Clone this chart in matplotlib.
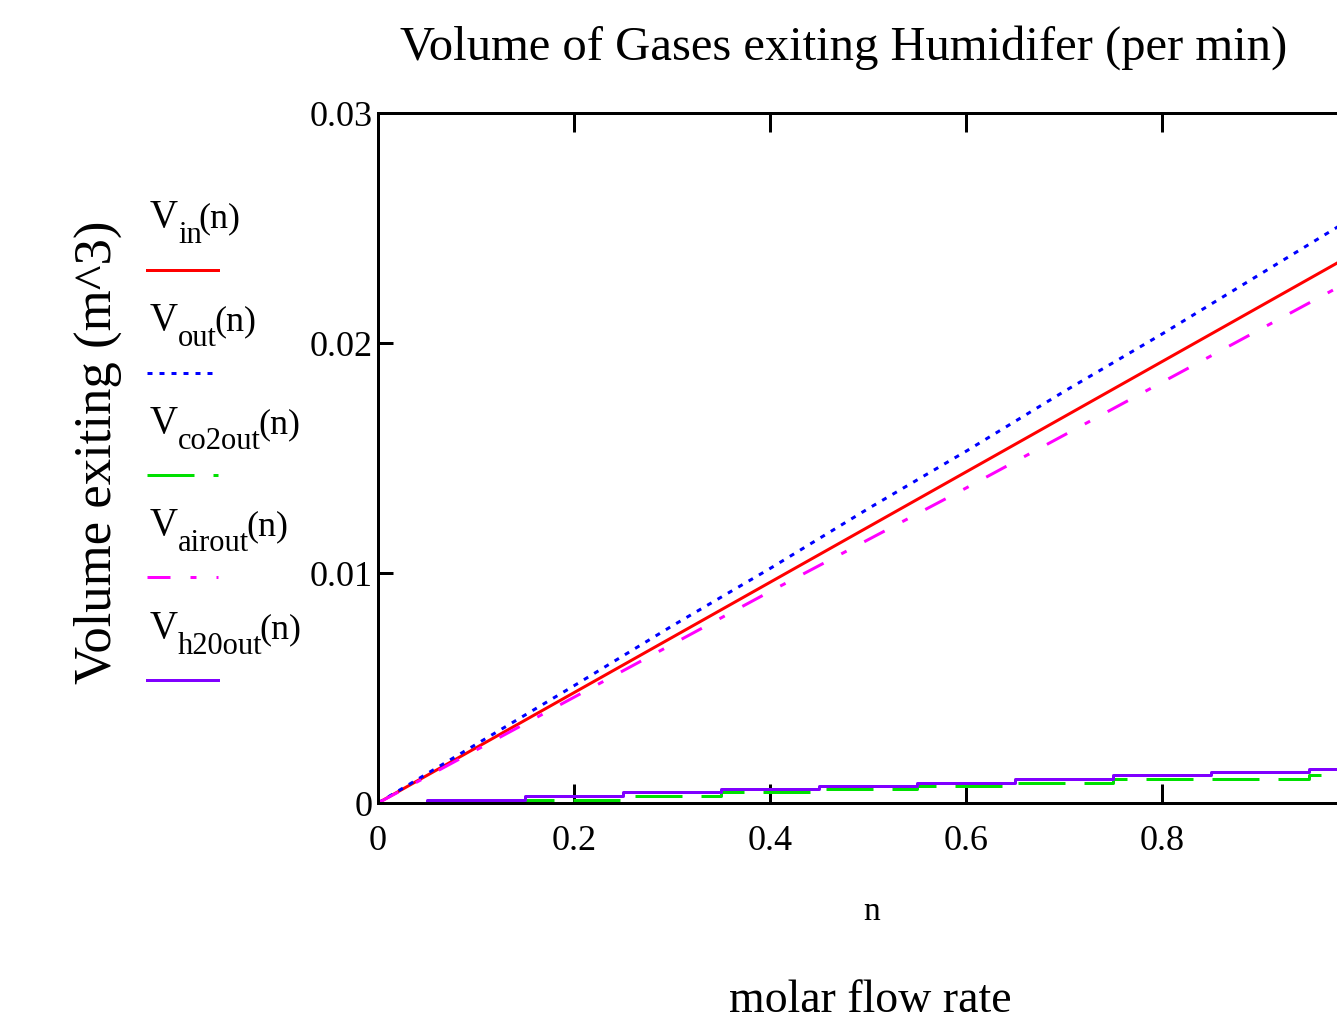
import matplotlib
matplotlib.use("Agg")
import matplotlib.pyplot as plt
from matplotlib.lines import Line2D

plt.rcParams['font.family'] = ['Liberation Serif', 'DejaVu Serif']
plt.rcParams['lines.scale_dashes'] = False

# ---- data ----
n = [0.0, 0.1, 0.2, 0.3, 0.4, 0.5, 0.6, 0.7, 0.8, 0.9, 1.0]
V_in = [0.0, 0.0024, 0.0048, 0.0072, 0.0096, 0.0120, 0.0144, 0.0168, 0.0192, 0.0216, 0.0240]
V_out = [0.0, 0.00255, 0.0051, 0.0077, 0.0102, 0.0128, 0.0153, 0.0179, 0.0204, 0.0230, 0.0256]
V_co2out = [0.0, 0.0001, 0.00014, 0.00031, 0.00046, 0.00060, 0.00075, 0.00089, 0.00104, 0.00106, 0.00120]
V_airout = [0.0, 0.0023, 0.0046, 0.0069, 0.0092, 0.01145, 0.0137, 0.0160, 0.0183, 0.0206, 0.0229]
V_h20out = [0.0, 0.00013, 0.00032, 0.00047, 0.00060, 0.00076, 0.00089, 0.00105, 0.00120, 0.00134, 0.00149]

x_ticks = [0.0, 0.2, 0.4, 0.6, 0.8]
x_tick_labels = ["0", "0.2", "0.4", "0.6", "0.8"]
y_ticks = [0.0, 0.01, 0.02, 0.03]
y_tick_labels = ["0", "0.01", "0.02", "0.03"]

legend_subs = ["in", "out", "co2out", "airout", "h20out"]

W, H = 1337, 1024
PT = 0.72  # points per pixel at dpi 100

fig = plt.figure(figsize=(W / 100, H / 100), dpi=100)

def fx(x):
    return x / W

def fy(y):
    return 1 - y / H

x0, x1 = 378, 1358.5
y0, y1 = 803, 113
ax = fig.add_axes([fx(x0), fy(y0), fx(x1) - fx(x0), (y0 - y1) / H])

lw = 3 * PT
styles = [
    dict(color='#ff0000', linestyle='-'),
    dict(color='#0000ff', linestyle=(0, (5 * PT, 7 * PT))),
    dict(color='#00e000', linestyle=(0, (47 * PT, 19 * PT))),
    dict(color='#ff00ff', linestyle=(0, (23 * PT, 20 * PT, 6 * PT, 20 * PT))),
    dict(color='#8000ff', linestyle='-'),
]

ax.plot(n, V_in, lw=lw, **styles[0])
ax.plot(n, V_out, lw=lw, **styles[1])
ax.plot(n, V_co2out, lw=lw, drawstyle='steps-mid', **styles[2])
ax.plot(n, V_airout, lw=lw, **styles[3])
ax.plot(n, V_h20out, lw=lw, drawstyle='steps-mid', **styles[4])

ax.set_xlim(0, 1)
ax.set_ylim(0, 0.03)
ax.set_xticks(x_ticks)
ax.set_xticklabels(x_tick_labels)
ax.set_yticks(y_ticks)
ax.set_yticklabels(y_tick_labels)

for s in ax.spines.values():
    s.set_linewidth(3 * PT)
ax.tick_params(axis='x', direction='in', length=19 * PT, width=3 * PT, top=True,
               labelsize=26, pad=16)
ax.tick_params(axis='y', direction='in', length=15 * PT, width=3 * PT,
               labelsize=26, pad=4)
for lbl in ax.get_xticklabels():
    lbl.set_x(lbl.get_position()[0])

# title and axis labels
fig.text(fx(844), fy(48), "Volume of Gases exiting Humidifer (per min)",
         ha='center', va='center', fontsize=35)
fig.text(fx(98), fy(452), "Volume exiting (m^3)", rotation=90,
         ha='center', va='center', fontsize=38)
fig.text(fx(872), fy(920), "n", ha='center', va='baseline', fontsize=24)
fig.text(fx(870), fy(1012), "molar flow rate", ha='center', va='baseline', fontsize=33)

# legend (Mathcad style: label above line sample)
renderer = fig.canvas.get_renderer()
label_base = [227, 330, 433, 535, 638]
line_y = [270, 373, 475, 577, 680]
for sub, yb, yl, st in zip(legend_subs, label_base, line_y, styles):
    tv = fig.text(fx(150), fy(yb), "V", ha='left', va='baseline', fontsize=28)
    bb = tv.get_window_extent(renderer)
    ts = fig.text(bb.x1 / W, fy(yb + 16), sub, ha='left', va='baseline', fontsize=22)
    bs = ts.get_window_extent(renderer)
    fig.text((bs.x1 - 3) / W, fy(yb), "(n)", ha='left', va='baseline', fontsize=26)
    fig.add_artist(Line2D([fx(147), fx(218)], [fy(yl), fy(yl)], lw=lw,
                          transform=fig.transFigure, **st))

fig.savefig("out.png", dpi=100)
